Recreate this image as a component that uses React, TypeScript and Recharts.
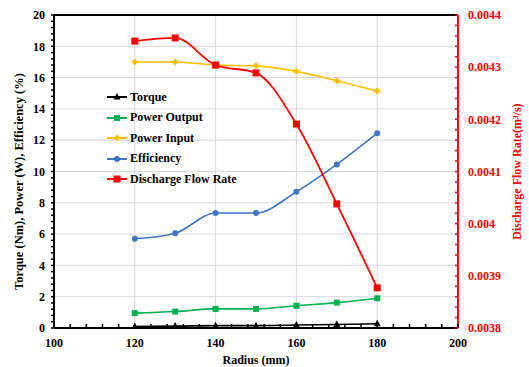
import {
  LineChart,
  Line,
  XAxis,
  YAxis,
  CartesianGrid,
  ReferenceLine,
} from 'recharts';

const radius = [120, 130, 140, 150, 160, 170, 180];
const torque = [0.1, 0.12, 0.15, 0.15, 0.19, 0.22, 0.27];
const powerOutput = [0.95, 1.05, 1.22, 1.22, 1.42, 1.62, 1.9];
const powerInput = [17.0, 17.0, 16.8, 16.75, 16.4, 15.8, 15.15];
const efficiency = [5.7, 6.05, 7.35, 7.35, 8.7, 10.45, 12.45];
const dischargeFlow = [0.00435, 0.004356, 0.004304, 0.004289, 0.004191, 0.004038, 0.003877];

const xMajorTicks = [100, 120, 140, 160, 180, 200];
const leftMajorTicks = [0, 2, 4, 6, 8, 10, 12, 14, 16, 18, 20];
const rightMajorTicks = [0.0038, 0.0039, 0.004, 0.0041, 0.0042, 0.0043, 0.0044];

// minor ticks: 5 steps between each major tick
const withMinor = (major: number[]) => {
  const out: number[] = [];
  for (let i = 0; i < major.length - 1; i++) {
    const step = (major[i + 1] - major[i]) / 5;
    for (let k = 0; k < 5; k++) out.push(major[i] + step * k);
  }
  out.push(major[major.length - 1]);
  return out;
};

const xTicks = withMinor(xMajorTicks);
const leftTicks = withMinor(leftMajorTicks);
const rightTicks = withMinor(rightMajorTicks);

const data = radius.map((r, i) => ({
  radius: r,
  torque: torque[i],
  powerOutput: powerOutput[i],
  powerInput: powerInput[i],
  efficiency: efficiency[i],
  discharge: dischargeFlow[i],
}));

const FONT = '"Liberation Serif", "Times New Roman", serif';
const RED = '#ff0000';

const SERIES = [
  { key: 'torque', name: 'Torque', color: '#000000', shape: 'triangle', axis: 'left' },
  { key: 'powerOutput', name: 'Power Output', color: '#00b050', shape: 'square', axis: 'left' },
  { key: 'powerInput', name: 'Power Input', color: '#ffc000', shape: 'diamond', axis: 'left' },
  { key: 'efficiency', name: 'Efficiency', color: '#3f75c2', shape: 'circle', axis: 'left' },
  { key: 'discharge', name: 'Discharge Flow Rate', color: RED, shape: 'bigsquare', axis: 'right' },
];

const Marker = ({ cx, cy, shape, color }: any) => {
  if (cx == null || cy == null) return null;
  switch (shape) {
    case 'triangle':
      return <polygon points={`${cx},${cy - 4} ${cx - 3.5},${cy + 2.5} ${cx + 3.5},${cy + 2.5}`} fill={color} />;
    case 'square':
      return <rect x={cx - 3} y={cy - 3} width={6} height={6} fill={color} />;
    case 'bigsquare':
      return <rect x={cx - 3.5} y={cy - 3.5} width={7} height={7} fill={color} />;
    case 'diamond':
      return <polygon points={`${cx},${cy - 3.5} ${cx + 3.5},${cy} ${cx},${cy + 3.5} ${cx - 3.5},${cy}`} fill={color} />;
    default:
      return <circle cx={cx} cy={cy} r={3} fill={color} />;
  }
};

const XTick = ({ x, y, payload, index }: any) => {
  const major = index % 5 === 0;
  return (
    <g>
      <line x1={x} x2={x} y1={y} y2={y - 4} stroke="#000" strokeWidth={1.5} />
      {major && (
        <text x={x} y={y + 19} textAnchor="middle" fontFamily={FONT} fontWeight="bold" fontSize={12} fill="#000">
          {Math.round(payload.value)}
        </text>
      )}
    </g>
  );
};

const LeftTick = ({ x, y, payload, index }: any) => {
  const major = index % 5 === 0;
  return (
    <g>
      <line x1={x} x2={x - 3} y1={y} y2={y} stroke="#000" strokeWidth={1.5} />
      {major && (
        <text x={x - 9} y={y} dy="0.35em" textAnchor="end" fontFamily={FONT} fontWeight="bold" fontSize={12} fill="#000">
          {Math.round(payload.value)}
        </text>
      )}
    </g>
  );
};

const RightTick = ({ x, y, payload, index }: any) => {
  const major = index % 5 === 0;
  return (
    <g>
      <line x1={x} x2={x - 3} y1={y} y2={y} stroke={RED} strokeWidth={1.5} />
      {major && (
        <text x={x + 10} y={y} dy="0.35em" textAnchor="start" fontFamily={FONT} fontWeight="bold" fontSize={12} fill={RED}>
          {Number(payload.value.toFixed(4)).toString()}
        </text>
      )}
    </g>
  );
};

const LegendBox = () => (
  <div
    style={{
      position: 'absolute',
      left: 105,
      top: 87,
      fontFamily: FONT,
      fontWeight: 'bold',
      fontSize: 12,
      pointerEvents: 'none',
    }}
  >
    {SERIES.map((s) => (
      <div key={s.key} style={{ display: 'flex', alignItems: 'center', height: 20.5 }}>
        <svg width={24} height={10} style={{ marginRight: 1 }}>
          <line x1={2} x2={22} y1={5} y2={5} stroke={s.color} strokeWidth={2} />
          <Marker cx={12} cy={5} shape={s.shape} color={s.color} />
        </svg>
        <span style={{ color: '#000', whiteSpace: 'nowrap' }}>{s.name}</span>
      </div>
    ))}
  </div>
);

export default function App() {
  return (
    <div style={{ position: 'absolute', left: 0, top: 0, width: 529, height: 367, background: '#fff' }}>
      <LineChart width={529} height={367} data={data} margin={{ top: 15, right: 0, bottom: 0, left: 0 }}>
        <CartesianGrid
          stroke="#d9d9d9"
          horizontalValues={[2, 4, 6, 8, 10, 12, 14, 16, 18]}
          verticalValues={[120, 140, 160, 180]}
          yAxisId="left"
        />
        <XAxis
          dataKey="radius"
          type="number"
          domain={[100, 200]}
          ticks={xTicks}
          interval={0}
          tick={<XTick />}
          tickLine={false}
          tickSize={0}
          tickMargin={0}
          height={39}
          axisLine={{ stroke: '#000', strokeWidth: 2 }}
          label={{
            content: ({ viewBox }: any) => (
              <text
                x={viewBox.x + viewBox.width / 2}
                y={viewBox.y + 36}
                textAnchor="middle"
                fontFamily={FONT}
                fontWeight="bold"
                fontSize={12}
                fill="#000"
              >
                Radius (mm)
              </text>
            ),
          }}
        />
        <YAxis
          yAxisId="left"
          domain={[0, 20]}
          ticks={leftTicks}
          interval={0}
          tick={<LeftTick />}
          tickLine={false}
          tickSize={0}
          tickMargin={0}
          width={54}
          axisLine={{ stroke: '#000', strokeWidth: 2 }}
          label={{
            content: ({ viewBox }: any) => {
              const cx = viewBox.x + 19;
              const cy = viewBox.y + viewBox.height / 2 + 10;
              return (
                <text
                  x={cx}
                  y={cy}
                  transform={`rotate(-90 ${cx} ${cy})`}
                  textAnchor="middle"
                  dominantBaseline="central"
                  fontFamily={FONT}
                  fontWeight="bold"
                  fontSize={12.5}
                  fill="#000"
                >
                  Torque (Nm), Power (W), Efficiency (%)
                </text>
              );
            },
          }}
        />
        <YAxis
          yAxisId="right"
          orientation="right"
          domain={[0.0038, 0.0044]}
          ticks={rightTicks}
          interval={0}
          tick={<RightTick />}
          tickLine={false}
          tickSize={0}
          tickMargin={0}
          width={71}
          axisLine={{ stroke: RED, strokeWidth: 2 }}
          label={{
            content: ({ viewBox }: any) => {
              const cx = viewBox.x + 59;
              const cy = viewBox.y + viewBox.height / 2;
              return (
                <text
                  x={cx}
                  y={cy}
                  transform={`rotate(-90 ${cx} ${cy})`}
                  textAnchor="middle"
                  dominantBaseline="central"
                  fontFamily={FONT}
                  fontWeight="bold"
                  fontSize={12}
                  fill={RED}
                >
                  Discharge Flow Rate(m³/s)
                </text>
              );
            },
          }}
        />
        <ReferenceLine yAxisId="left" y={20} stroke="#000" strokeWidth={2} />
        {SERIES.map((s) => (
          <Line
            key={s.key}
            yAxisId={s.axis}
            dataKey={s.key}
            name={s.name}
            type="monotone"
            stroke={s.color}
            strokeWidth={s.key === 'discharge' ? 1.8 : 1.6}
            dot={(p: any) => <Marker key={`${s.key}-${p.index}`} cx={p.cx} cy={p.cy} shape={s.shape} color={s.color} />}
            activeDot={false}
            isAnimationActive={false}
          />
        ))}
      </LineChart>
      <LegendBox />
    </div>
  );
}
